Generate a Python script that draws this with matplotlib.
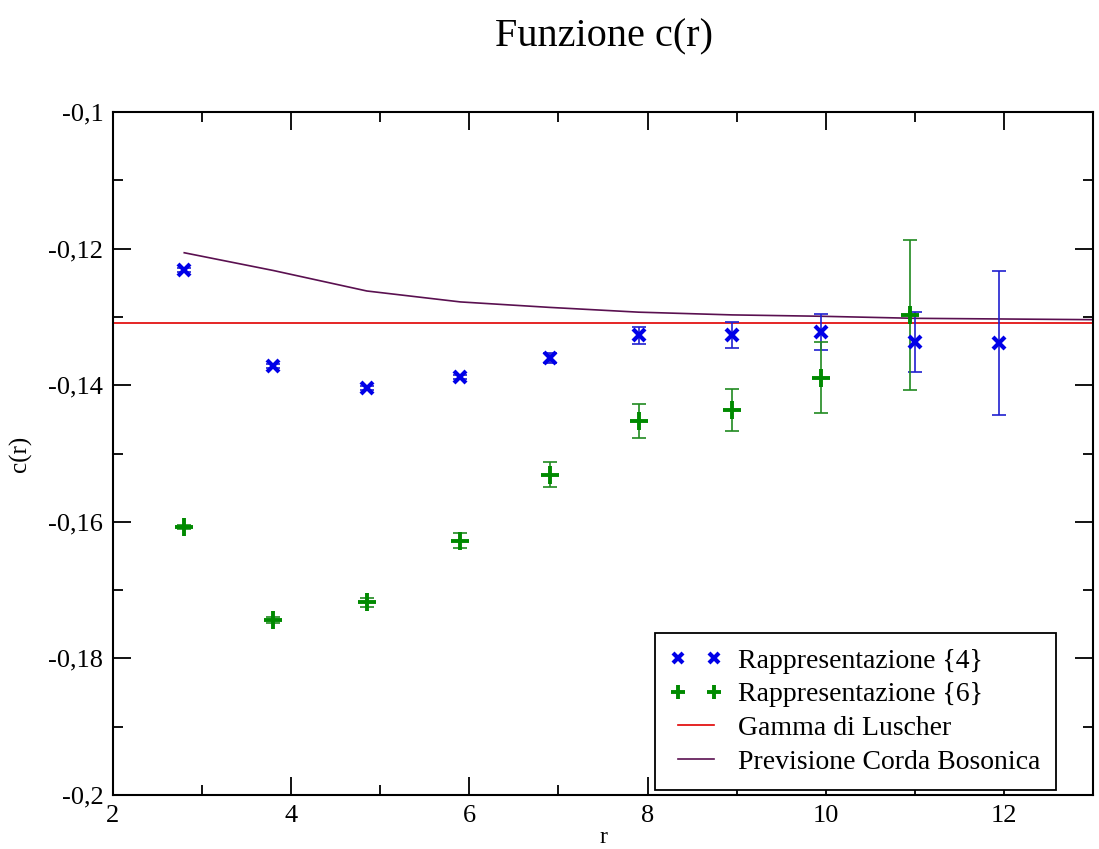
import matplotlib
matplotlib.use("Agg")
import matplotlib.pyplot as plt
import matplotlib.ticker as mticker
import numpy as np

plt.rcParams['font.family'] = ['Liberation Serif', 'DejaVu Serif']

# data
r4 = [2.8, 3.8, 4.85, 5.9, 6.9, 7.9, 8.95, 9.95, 11.0, 11.95]
c4 = [-0.1231, -0.1372, -0.1404, -0.1388, -0.1360, -0.1327, -0.1327, -0.1322, -0.1337, -0.1338]
e4 = [0.0003, 0.0003, 0.0003, 0.0003, 0.0007, 0.0012, 0.0019, 0.0026, 0.0044, 0.0105]

r6 = [2.8, 3.8, 4.85, 5.9, 6.9, 7.9, 8.95, 9.95, 10.95]
c6 = [-0.1607, -0.1744, -0.1718, -0.1628, -0.1531, -0.1452, -0.1436, -0.1389, -0.1297]
e6 = [0.0003, 0.0004, 0.0007, 0.0011, 0.0018, 0.0025, 0.0031, 0.0052, 0.0110]

luscher = -np.pi / 24

r_bos = [2.8, 3.8, 4.85, 5.9, 6.9, 7.9, 8.95, 9.95, 11.0, 12.0, 13.0]
c_bos = [-0.1206, -0.1232, -0.1262, -0.1278, -0.1286, -0.1293, -0.1297, -0.1299, -0.1302, -0.1303, -0.1304]

blue = '#0000e8'
green = '#008a00'

fig = plt.figure(figsize=(10.99, 8.49), dpi=100)
ax = fig.add_axes([0.1028, 0.0636, 0.8917, 0.8044])

ax.axhline(luscher, color='#e00000', lw=1.2, label='Gamma di Luscher', zorder=2)
ax.plot(r_bos, c_bos, color='#5a1050', lw=1.2, label='Previsione Corda Bosonica', zorder=2)

# error bars drawn apart from the markers so the caps stay thin
ax.errorbar(r4, c4, yerr=e4, fmt='none', ecolor='#2020d0', elinewidth=1.2,
            capsize=5, capthick=1.2, zorder=3)
ax.errorbar(r6, c6, yerr=e6, fmt='none', ecolor='#208a20', elinewidth=1.2,
            capsize=5, capthick=1.2, zorder=3)
ax.plot(r4, c4, 'x', color=blue, ms=9, mew=3, label='Rappresentazione {4}', zorder=4)
ax.plot(r6, c6, '+', color=green, ms=13, mew=2.8, label='Rappresentazione {6}', zorder=4)

ax.set_xlim(2, 13)
ax.set_ylim(-0.2, -0.1)
ax.xaxis.set_major_locator(mticker.MultipleLocator(2))
ax.xaxis.set_minor_locator(mticker.MultipleLocator(1))
ax.yaxis.set_major_locator(mticker.MultipleLocator(0.02))
ax.yaxis.set_minor_locator(mticker.MultipleLocator(0.01))
ax.yaxis.set_major_formatter(mticker.FuncFormatter(lambda v, p: f"{v:g}".replace('.', ',')))
ax.tick_params(which='both', direction='in', top=True, right=True, labelsize=19, width=1.3)
ax.tick_params(which='major', length=13, pad=7)
ax.tick_params(which='minor', length=7)
for s in ax.spines.values():
    s.set_linewidth(1.5)

ax.set_xlabel('r', fontsize=17, labelpad=0)
ax.set_ylabel('c(r)', fontsize=18, labelpad=12)
fig.suptitle('Funzione c(r)', fontsize=29, x=0.55, y=0.978)

h, l = ax.get_legend_handles_labels()
order = [2, 3, 0, 1]
leg = ax.legend([h[i] for i in order], [l[i] for i in order], loc='lower right',
                bbox_to_anchor=(0.962, 0.007), borderaxespad=0, numpoints=2,
                fontsize=20, frameon=True, fancybox=False, edgecolor='black',
                framealpha=1, handlelength=1.9, labelspacing=0.3, borderpad=0.55,
                handletextpad=0.55, markerscale=0.8)
leg.get_frame().set_linewidth(1.3)

fig.savefig('out.png', dpi=100)
